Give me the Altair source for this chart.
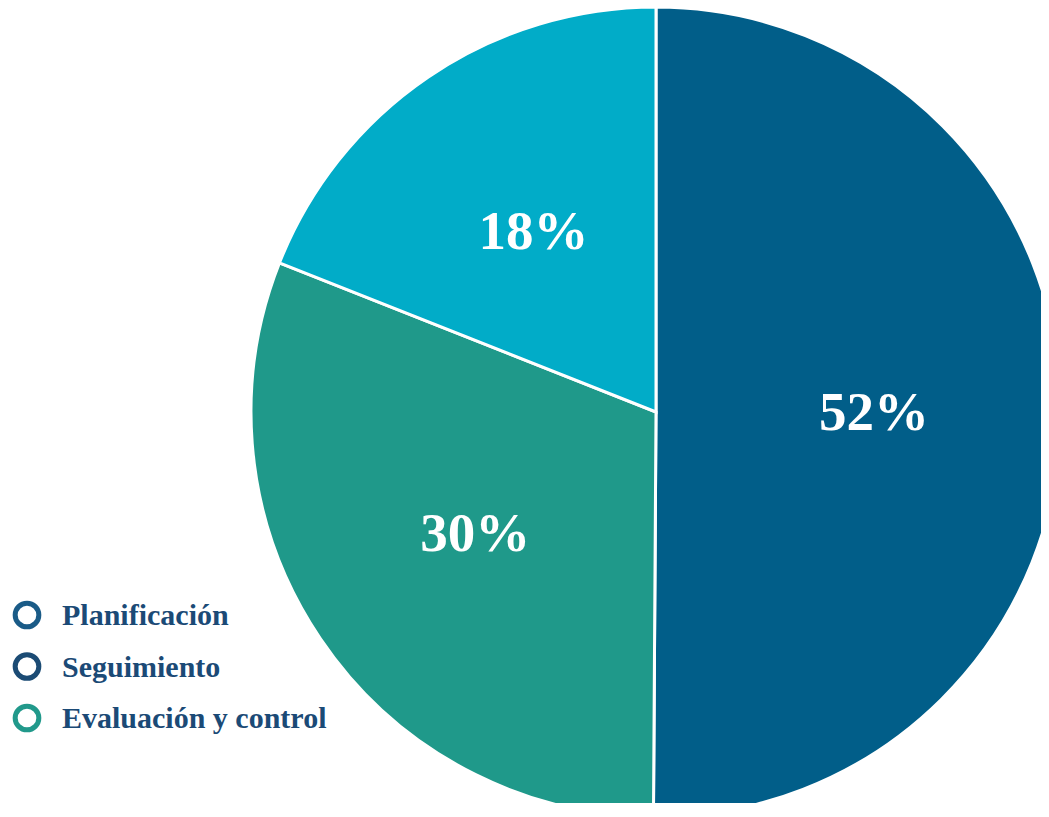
import altair as alt
import pandas as pd

# Slices, clockwise from 12 o'clock
slice_names = ["Planificación", "Evaluación y control", "Seguimiento"]
slice_shares = [50.1, 30.9, 19.0]          # angular share
slice_labels = ["52%", "30%", "18%"]       # printed labels
slice_colors = ["#015e89", "#1f998a", "#01acc8"]

# Legend entries (as printed)
legend_names = ["Planificación", "Seguimiento", "Evaluación y control"]
legend_colors = ["#1a5b87", "#1b4b74", "#21998b"]

pie_df = pd.DataFrame({
    "name": slice_names,
    "share": slice_shares,
    "label": slice_labels,
    "idx": list(range(len(slice_names))),
})
leg_df = pd.DataFrame({"name": legend_names})

CX, CY, R = 648, 404, 405

base = alt.Chart(pie_df).encode(
    theta=alt.Theta("share:Q", stack=True),
    order=alt.Order("idx:Q"),
)

arcs = base.mark_arc(radius=R, stroke="white", strokeWidth=3).encode(
    color=alt.Color("name:N", scale=alt.Scale(domain=slice_names, range=slice_colors), legend=None),
    x=alt.value(CX),
    y=alt.value(CY),
)

labels = base.mark_text(
    radius=218, font="Liberation Serif", fontWeight="bold", fontSize=55,
    color="white", align="center", baseline="middle",
).encode(
    text="label:N",
    x=alt.value(CX),
    y=alt.value(CY),
)

leg_y = alt.Y("name:N", sort=legend_names, axis=None,
              scale=alt.Scale(type="point", range=[607, 710], padding=0))

leg_pts = alt.Chart(leg_df).mark_point(shape="circle", filled=False, strokeWidth=5, size=560, opacity=1).encode(
    x=alt.value(19),
    y=leg_y,
    stroke=alt.Stroke("name:N", scale=alt.Scale(domain=legend_names, range=legend_colors), legend=None),
)

leg_txt = alt.Chart(leg_df).mark_text(
    align="left", baseline="middle", dy=1, font="Liberation Serif", fontWeight="bold",
    fontSize=30, color="#1b4a76",
).encode(
    x=alt.value(54),
    y=leg_y,
    text="name:N",
)

chart = alt.layer(arcs, labels, leg_pts, leg_txt).properties(
    width=1033, height=795,
    autosize=alt.AutoSizeParams(type="none"),
    padding=0,
).configure_view(stroke=None)

chart.save("out.html", embed_options={"renderer": "svg", "actions": False})
